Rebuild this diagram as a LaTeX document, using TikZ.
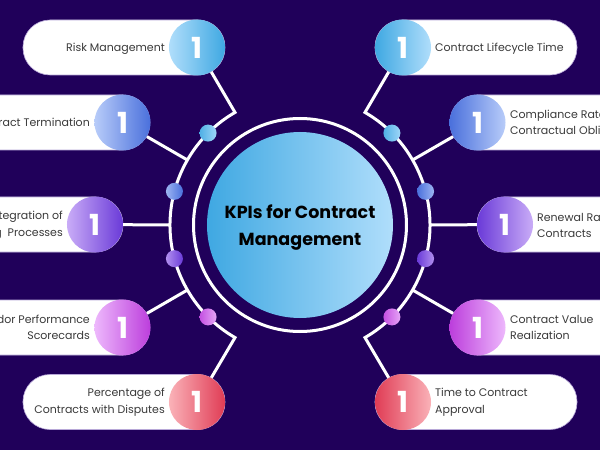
\documentclass[tikz,border=0pt]{standalone}
\usepackage{fontspec}
\setmainfont{Poppins}
\definecolor{pagebg}{HTML}{20005A}
\definecolor{pilledge}{HTML}{B8A8D8}
\definecolor{inktext}{HTML}{3A3A3A}
\definecolor{blueL}{HTML}{B0DEFB}
\definecolor{blueD}{HTML}{3FA8E2}
\definecolor{royalL}{HTML}{B8CCF9}
\definecolor{royalD}{HTML}{4A70DC}
\definecolor{violetL}{HTML}{C9ACF7}
\definecolor{violetD}{HTML}{6A3AD8}
\definecolor{orchidL}{HTML}{EDB8FC}
\definecolor{orchidD}{HTML}{BC3EDC}
\definecolor{redL}{HTML}{FAB2B8}
\definecolor{redD}{HTML}{E03C55}
\begin{document}
\begin{tikzpicture}[x=1pt, y=1pt,
pill/.style={shape=rectangle, draw=pilledge, line width=0.6pt, fill=white, rounded corners=27pt, minimum height=55pt},
badge/.style={shape=circle, minimum size=56pt, inner sep=0pt, text=white, font=\fontsize{29}{29}\selectfont\bfseries},
spot/.style={shape=circle, minimum size=17pt, inner sep=0pt},
linkline/.style={draw=white, line width=3pt},
caption/.style={text=inktext, inner sep=0pt, font=\fontsize{11}{16.5}\selectfont}]
\fill [pagebg] (-300,-225) rectangle (300,225);
\useasboundingbox (-300,-225) rectangle (300,225);
\clip (-300,-225) rectangle (300,225);

\coordinate (elbowa) at (120:130);
\coordinate (elbowb) at (150:130);
\coordinate (elbowc) at (180:130);
\coordinate (elbowd) at (210:130);
\coordinate (elbowe) at (240:130);
\coordinate (elbowf) at (60:130);
\coordinate (elbowg) at (30:130);
\coordinate (elbowh) at (0:130);
\coordinate (elbowi) at (-30:130);
\coordinate (elbowj) at (-60:130);

\node (riskpill) [pill, minimum width=202pt] at (-176,177.5) {};
\node (termpill) [pill, minimum width=300pt] at (-300,102.5) {};
\node (integpill) [pill, minimum width=300pt] at (-327,0.5) {};
\node (vendorpill) [pill, minimum width=300pt] at (-300,-102.5) {};
\node (disputepill) [pill, minimum width=202pt] at (-176,-177) {};
\node (lifepill) [pill, minimum width=202pt] at (176,177.5) {};
\node (compliancepill) [pill, minimum width=300pt] at (300,102.5) {};
\node (renewalpill) [pill, minimum width=300pt] at (327,0.5) {};
\node (valuepill) [pill, minimum width=300pt] at (300,-102.5) {};
\node (approvalpill) [pill, minimum width=202pt] at (176,-177) {};

\node (riskbadge) [badge, left color=blueL, right color=blueD] at (-103,177.5) {1};
\node (termbadge) [badge, left color=royalL, right color=royalD] at (-177.5,102.5) {1};
\node (integbadge) [badge, left color=violetL, right color=violetD] at (-205,0.5) {1};
\node (vendorbadge) [badge, left color=orchidL, right color=orchidD] at (-177.5,-102.5) {1};
\node (disputebadge) [badge, left color=redL, right color=redD] at (-103,-177) {1};
\node (lifebadge) [badge, left color=blueD, right color=blueL] at (103,177.5) {1};
\node (compliancebadge) [badge, left color=royalD, right color=royalL] at (177.5,102.5) {1};
\node (renewalbadge) [badge, left color=violetD, right color=violetL] at (205,0.5) {1};
\node (valuebadge) [badge, left color=orchidD, right color=orchidL] at (177.5,-102.5) {1};
\node (approvalbadge) [badge, left color=redD, right color=redL] at (103,-177) {1};

\draw [linkline, line join=miter] (riskbadge) -- (elbowa) arc[start angle=120, end angle=240, radius=130] -- (disputebadge);
\draw [linkline, line join=miter] (lifebadge) -- (elbowf) arc[start angle=60, end angle=-60, radius=130] -- (approvalbadge);
\draw [linkline] (termbadge) -- (elbowb);
\draw [linkline] (integbadge) -- (elbowc);
\draw [linkline] (vendorbadge) -- (elbowd);
\draw [linkline] (compliancebadge) -- (elbowg);
\draw [linkline] (renewalbadge) -- (elbowh);
\draw [linkline] (valuebadge) -- (elbowi);

\node (dota) [spot, left color=blueD!85!blueL, right color=blueL!85!blueD] at (135:130) {};
\node (dotb) [spot, left color=royalL!75!royalD, right color=royalD] at (165:130) {};
\node (dotc) [spot, left color=violetL!75!violetD, right color=violetD] at (195:130) {};
\node (dotd) [spot, left color=orchidD!85!orchidL, right color=orchidL!85!orchidD] at (225:130) {};
\node (dote) [spot, left color=blueD!85!blueL, right color=blueL!85!blueD] at (45:130) {};
\node (dotf) [spot, left color=royalD, right color=royalL!75!royalD] at (15:130) {};
\node (dotg) [spot, left color=violetD, right color=violetL!75!violetD] at (-15:130) {};
\node (doth) [spot, left color=orchidD!85!orchidL, right color=orchidL!85!orchidD] at (-45:130) {};

\node (ring) [shape=circle, draw=white, line width=3pt, minimum size=213pt, inner sep=0pt] at (0,0) {};
\node (hub) [shape=circle, minimum size=186pt, inner sep=0pt, left color=blueD, right color=blueL] at (0,0) {};
\node (hubtitle) [align=center, inner sep=0pt, text=black, font=\fontsize{17.5}{27}\selectfont\bfseries] at (0,-2.5) {KPIs for Contract\\Management};

\node (risktext) [caption, align=right, anchor=east] at (-135,176.5) {Risk Management};
\node (termtext) [caption, align=right, anchor=east] at (-210,102.5) {ract Termination};
\node (integtext) [caption, align=right, anchor=east] at (-237,-0.5) {tegration of\\g~~Processes};
\node (vendortext) [caption, align=right, anchor=east] at (-210,-102.5) {dor Performance\\Scorecards};
\node (disputetext) [caption, align=right, anchor=east] at (-135,-177) {Percentage of\\Contracts with Disputes};
\node (lifetext) [caption, align=left, anchor=west] at (135,176.5) {Contract Lifecycle Time};
\node (compliancetext) [caption, align=left, anchor=west] at (210,102.5) {Compliance Rate\\Contractual Obli};
\node (renewaltext) [caption, align=left, anchor=west] at (237,-0.5) {Renewal Ra\\Contracts};
\node (valuetext) [caption, align=left, anchor=west] at (210,-102.5) {Contract Value\\Realization};
\node (approvaltext) [caption, align=left, anchor=west] at (135,-177) {Time to Contract\\Approval};
\end{tikzpicture}
\end{document}
